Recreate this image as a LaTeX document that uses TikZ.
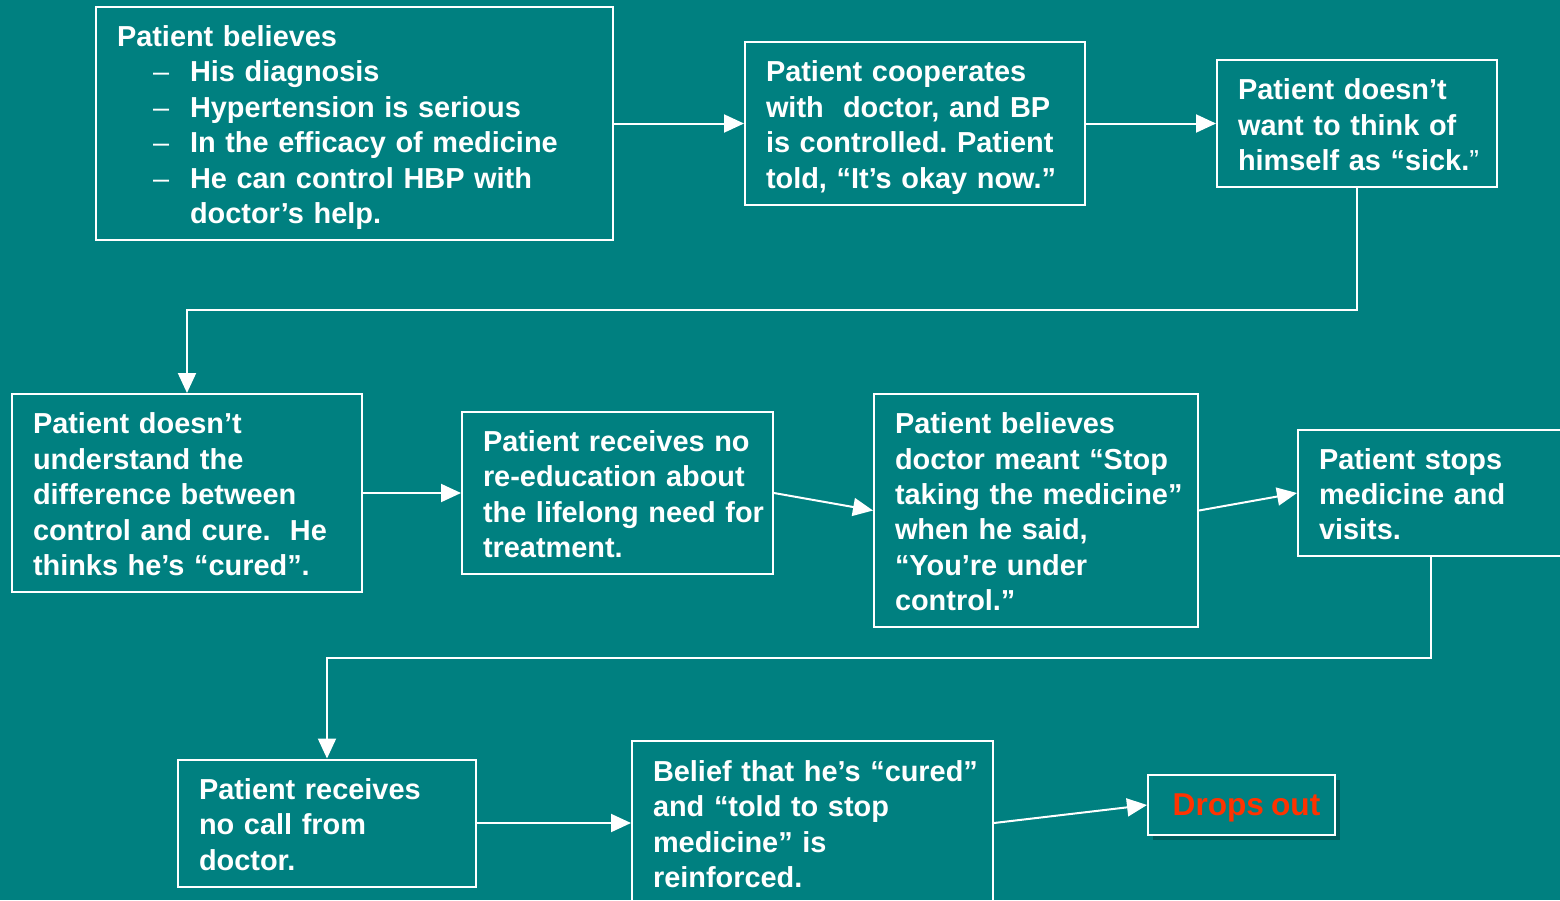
\documentclass[tikz,border=0pt]{standalone}
\usepackage{fontspec}
\setmainfont[WordSpace=0.82]{Liberation Sans}
\usetikzlibrary{arrows.meta,shadows}
\definecolor{teal}{RGB}{0,128,128}
\definecolor{darkteal}{RGB}{0,92,92}
\definecolor{dropred}{RGB}{255,51,0}
\newcommand{\dashitem}{\hspace*{36pt}\makebox[37pt][l]{\mdseries –}}
\newcommand{\boxlines}[1]{\begin{tabular}[b]{@{}l@{}}#1\end{tabular}}
\frenchspacing
\begin{document}
\begin{tikzpicture}[x=1pt,y=-1pt,
		box/.style={draw=white,line width=2pt,text=white,align=left,inner xsep=21pt,text depth=1.6pt,
			font=\fontsize{28.9}{35.4}\selectfont\bfseries},
		arr/.style={draw=white,line width=2pt,-{Triangle[length=20pt,width=18pt]}}]
		\useasboundingbox (0,0) rectangle (1560,900);
		\clip (0,0) rectangle (1560,900);
		\fill[teal] (0,0) rectangle (1560,900);
		% top row
		\node[box,minimum width=517pt,minimum height=233pt,text width=475pt] (b1) at (354.5,123.5)
			{\boxlines{Patient believes\\ \dashitem His diagnosis\\ \dashitem Hypertension is serious\\
			 \dashitem In the efficacy of medicine\\ \dashitem He can control HBP with\\
			 \hspace*{73pt}doctor’s help.}};
		\node[box,minimum width=340pt,minimum height=163pt,text width=298pt] (b2) at (915,123.5)
			{\boxlines{Patient cooperates\\ with\ \ doctor, and BP\\ is controlled. Patient\\ told, “It’s okay now.”}};
		\node[box,minimum width=280pt,minimum height=127pt,text width=238pt] (b3) at (1357,123.5)
			{\boxlines{Patient doesn’t\\ want to think of\\ himself as “sick.{\mdseries ”}}};
		% middle row
		\node[box,minimum width=350pt,minimum height=198pt,text width=308pt] (b4) at (187,493)
			{\boxlines{Patient doesn’t\\ understand the\\ difference between\\ control and cure.\ \ He\\ thinks he’s “cured”.}};
		\node[box,minimum width=311pt,minimum height=162pt,text width=269pt] (b5) at (617.5,493)
			{\boxlines{Patient receives no\\ re-education about\\ the lifelong need for\\ treatment.}};
		\node[box,minimum width=324pt,minimum height=233pt,text width=282pt] (b6) at (1036,510.5)
			{\boxlines{Patient believes\\ doctor meant “Stop\\ taking the medicine”\\ when he said,\\ “You’re under\\ control.”}};
		\node[box,minimum width=266pt,minimum height=126pt,text width=224pt] (b7) at (1431,493)
			{\boxlines{Patient stops\\ medicine and\\ visits.}};
		% bottom row
		\node[box,minimum width=298pt,minimum height=127pt,text width=256pt] (b8) at (327,823)
			{\boxlines{Patient receives\\ no call from\\ doctor.}};
		\node[box,minimum width=361pt,minimum height=165pt,text width=319pt] (b9) at (812.5,823)
			{\boxlines{Belief that he’s “cured”\\ and “told to stop\\ medicine” is\\ reinforced.}};
		\node[draw=white,line width=2pt,fill=teal,text=dropred,minimum width=187pt,minimum height=60pt,
			text height=22pt,text depth=2pt,font=\fontsize{31.6}{36}\selectfont\bfseries,
			drop shadow={shadow xshift=5pt,shadow yshift=-5pt,fill=darkteal,opacity=1}] (b10) at (1241.5,805)
			{\hspace*{10pt}Drops out};
		% connectors
		\draw[arr] (b1) -- (b2);
		\draw[arr] (b2) -- (b3);
		\draw[arr] (b3.south) -- ++(0,122) -| (b4.north);
		\draw[arr] (b4) -- (b5);
		\draw[arr] (b5.east) -- (b6.west);
		\draw[arr] (b6.east) -- (b7.west);
		\draw[arr] (b7.south) -- ++(0,101) -| (b8.north);
		\draw[arr] (b8) -- (b9);
		\draw[arr] (b9.east) -- (b10.west);
	\end{tikzpicture}
\end{document}
